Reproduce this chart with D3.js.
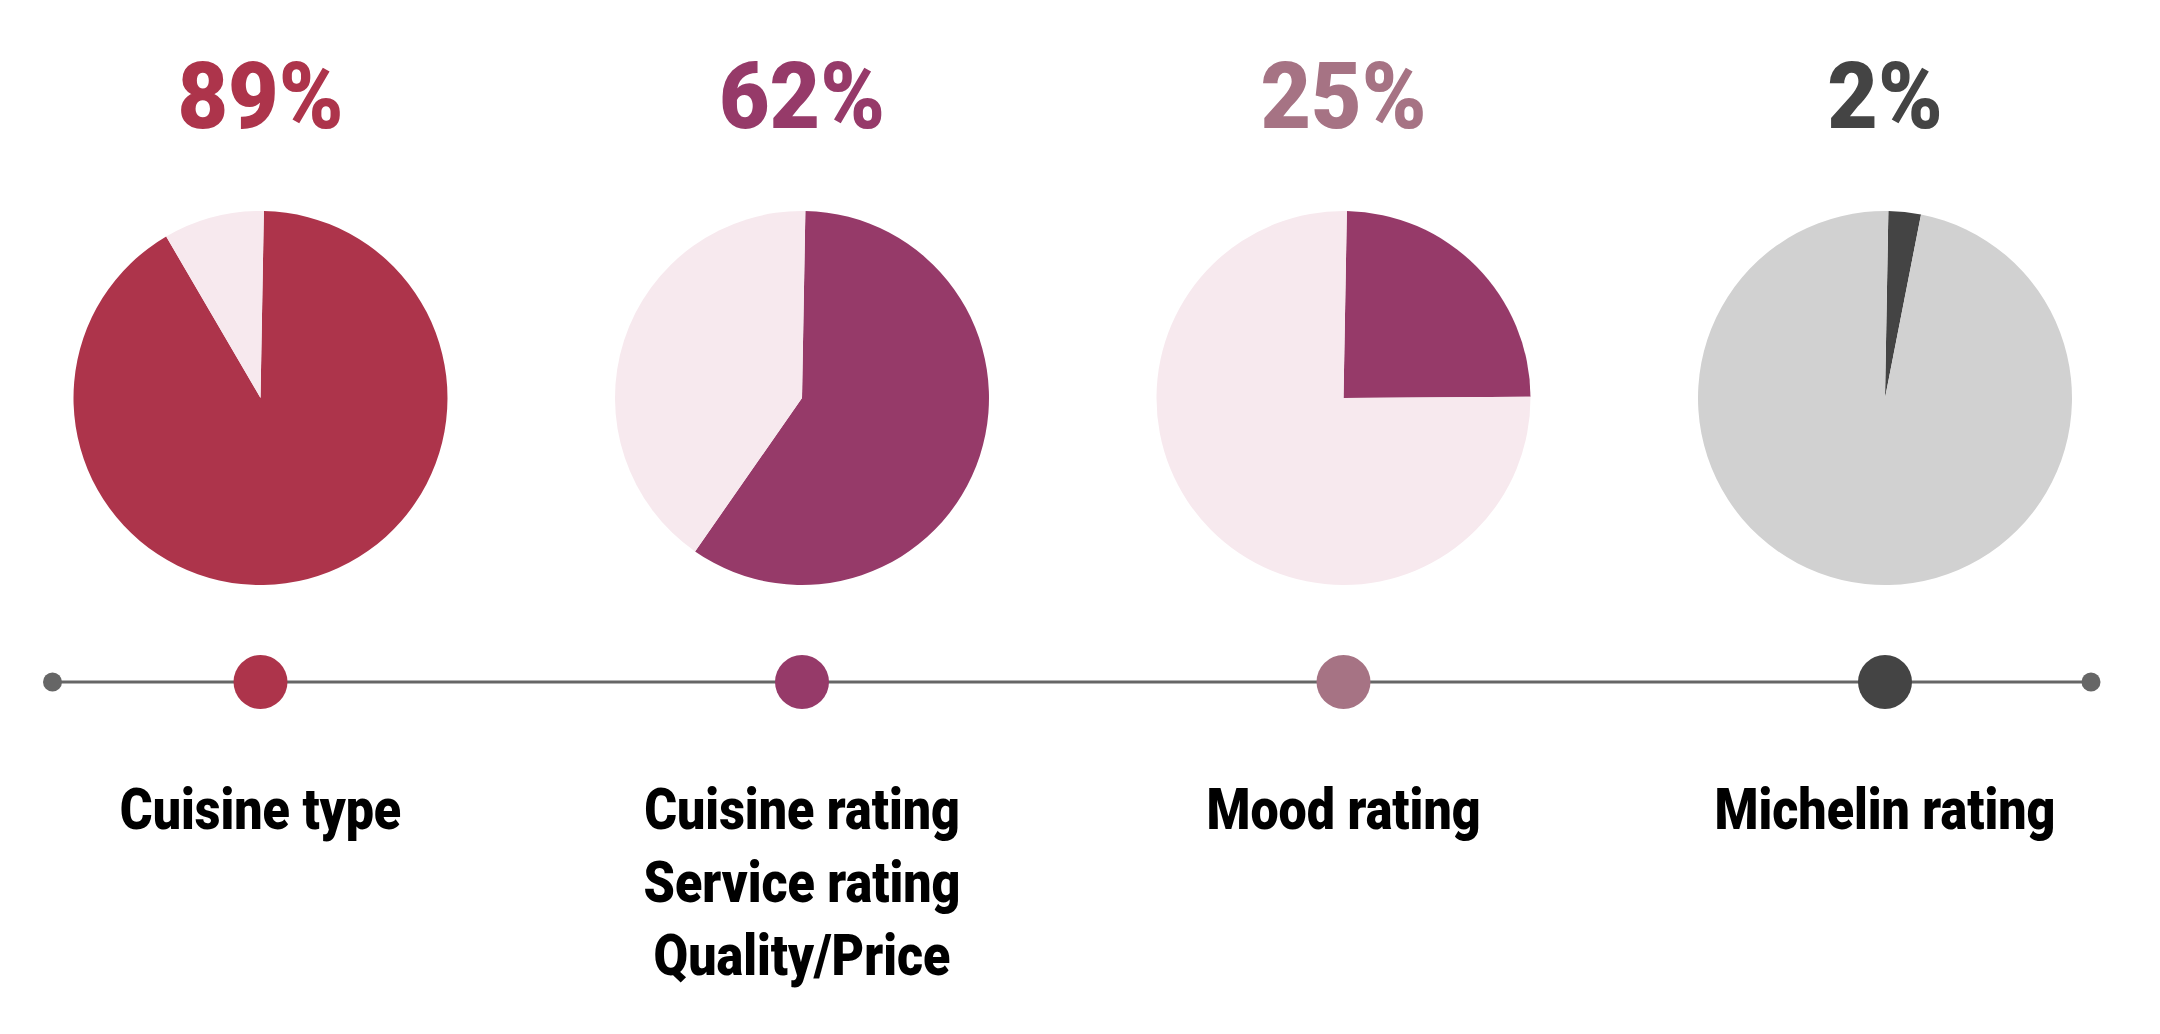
<!DOCTYPE html>
<html>
<head>
<meta charset="utf-8">
<script src="https://cdn.jsdelivr.net/npm/d3@7"></script>
<style>
  html, body { margin: 0; padding: 0; background: #ffffff; }
  svg { display: block; }
</style>
</head>
<body>
<script>
// ---- data ----
const categories = ["Cuisine type", "Cuisine rating", "Mood rating", "Michelin rating"];
const percentLabels = ["89%", "62%", "25%", "2%"];
// slice shares as drawn in the pies (percent)
const pieShares = [91.3, 59.4, 24.6, 2.8];
const labelLines = [
  ["Cuisine type"],
  ["Cuisine rating", "Service rating", "Quality/Price"],
  ["Mood rating"],
  ["Michelin rating"]
];
const darkColors = ["#ad344b", "#963a69", "#963a69", "#444444"];
const lightColors = ["#f7e9ee", "#f7e9ee", "#f7e9ee", "#d1d1d1"];
const accentColors = ["#ad344b", "#963a69", "#a67384", "#444444"];

// ---- layout ----
const W = 2160, H = 1034;
const pieCY = 398, pieR = 187;
const lineY = 682;
const pctBaseline = 128;
const labelBaseline = 829, labelLineH = 73;

const svg = d3.select("body").append("svg")
  .attr("width", W).attr("height", H);

const x = d3.scalePoint().domain(categories).range([260.5, 1885]);

const pie = d3.pie().sort(null).value(d => d)
  .startAngle(0.018).endAngle(2 * Math.PI + 0.018);
const arc = d3.arc().innerRadius(0).outerRadius(pieR);

// pies
categories.forEach((c, i) => {
  const g = svg.append("g").attr("transform", `translate(${x(c)},${pieCY})`);
  const arcs = pie([pieShares[i], 100 - pieShares[i]]);
  g.selectAll("path").data(arcs).join("path")
    .attr("d", arc)
    .attr("fill", (d, j) => j === 0 ? darkColors[i] : lightColors[i]);
});

// percentages
categories.forEach((c, i) => {
  svg.append("text")
    .attr("transform", `translate(${x(c)},${pctBaseline}) scale(0.95,1)`)
    .attr("text-anchor", "middle")
    .attr("font-family", "Roboto, 'Open Sans', sans-serif")
    .attr("font-weight", 900)
    .attr("font-size", 92)
    .attr("fill", accentColors[i])
    .text(percentLabels[i]);
});

// timeline
const x0 = x(categories[0]) - 208, x1 = x(categories[categories.length - 1]) + 206;
svg.append("line")
  .attr("x1", x0).attr("x2", x1)
  .attr("y1", lineY).attr("y2", lineY)
  .attr("stroke", "#666666").attr("stroke-width", 3);
svg.selectAll("circle.end").data([x0, x1]).join("circle")
  .attr("class", "end")
  .attr("cx", d => d).attr("cy", lineY).attr("r", 9.5)
  .attr("fill", "#666666");
svg.selectAll("circle.dot").data(categories).join("circle")
  .attr("class", "dot")
  .attr("cx", d => x(d)).attr("cy", lineY).attr("r", 27)
  .attr("fill", (d, i) => accentColors[i]);

// labels
const condense = 0.88;
categories.forEach((c, i) => {
  const g = svg.append("g")
    .attr("transform", `translate(${x(c)},${labelBaseline}) scale(${condense},1)`);
  g.selectAll("text").data(labelLines[i]).join("text")
    .attr("x", 0)
    .attr("y", (d, j) => j * labelLineH)
    .attr("text-anchor", "middle")
    .attr("font-family", "Roboto, 'Open Sans', sans-serif")
    .attr("font-weight", 900)
    .attr("font-size", 57)
    .attr("fill", "#000000")
    .text(d => d);
});
</script>
</body>
</html>
